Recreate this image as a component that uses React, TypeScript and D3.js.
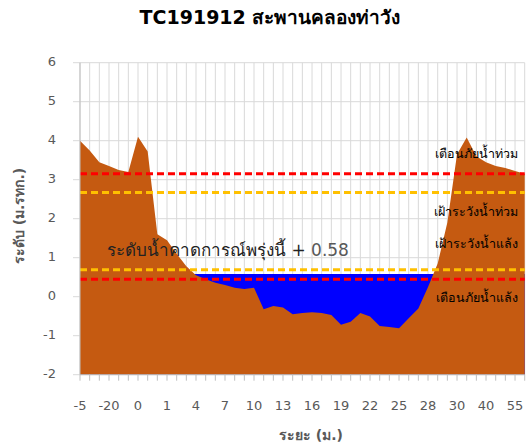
import React, { useRef, useEffect } from "react";
import * as d3 from "d3";

// distance categories (only every 3rd label is printed)
const categories = [
  "-5", "-10", "-15", "-20", "-3", "-1", "0", "0.3", "0.5", "1", "2", "3", "4",
  "5", "6", "7", "8", "9", "10", "11", "12", "13", "14", "15", "16", "17", "18",
  "19", "20", "21", "22", "23", "24", "25", "26", "27", "28", "29", "29.5", "30",
  "32", "35", "40", "45", "50", "55", "60",
];
// ground elevation (m. MSL)
const ground = [
  4.0, 3.75, 3.45, 3.35, 3.25, 3.2, 4.1, 3.72, 1.6, 1.45, 1.1, 0.78, 0.55, 0.45,
  0.36, 0.3, 0.23, 0.2, 0.23, -0.32, -0.24, -0.28, -0.45, -0.42, -0.4, -0.42,
  -0.47, -0.72, -0.64, -0.42, -0.51, -0.75, -0.78, -0.81, -0.55, -0.3, 0.25,
  0.85, 1.9, 3.65, 4.08, 3.6, 3.45, 3.35, 3.3, 3.22, 3.15,
];
const waterLevel = 0.58;
const levelNames = ["เตือนภัยน้ำท่วม", "เฝ้าระวังน้ำท่วม", "เฝ้าระวังน้ำแล้ง", "เตือนภัยน้ำแล้ง"];
const levelValues = [3.15, 2.67, 0.69, 0.45];
const levelColors = ["#FF0000", "#FFC000", "#FFC000", "#FF0000"];
const labelShift = [-19, 20, -25, 19];
const yTicks = [-2, -1, 0, 1, 2, 3, 4, 5, 6];

function App() {
  const svgRef = useRef<SVGSVGElement>(null);

  useEffect(() => {
    const svg = d3.select(svgRef.current);
    svg.selectAll("*").remove();

    const left = 80, right = 524.7, top = 62.7, bottom = 374.7;
    const font = "Tahoma, 'DejaVu Sans', sans-serif";

    const x = d3.scalePoint<number>()
      .domain(categories.map((_, i) => i))
      .range([left, right]);
    const y = d3.scaleLinear().domain([-2, 6]).range([bottom, top]);

    // gridlines
    svg.append("g")
      .selectAll("line")
      .data(categories.map((_, i) => i))
      .join("line")
      .attr("x1", d => x(d)!).attr("x2", d => x(d)!)
      .attr("y1", top).attr("y2", bottom)
      .attr("stroke", "#D9D9D9").attr("stroke-width", 1);
    svg.append("g")
      .selectAll("line")
      .data(yTicks)
      .join("line")
      .attr("x1", left - 7).attr("x2", right)
      .attr("y1", d => y(d)).attr("y2", d => y(d))
      .attr("stroke", "#D9D9D9").attr("stroke-width", 1);

    // water, then ground over it
    const water = d3.area<number>()
      .x((_, i) => x(i)!)
      .y0(y(-2))
      .y1(y(waterLevel));
    svg.append("path")
      .attr("d", water(ground))
      .attr("fill", "#0000FF");

    const bank = d3.area<number>()
      .x((_, i) => x(i)!)
      .y0(y(-2))
      .y1(d => y(d));
    svg.append("path")
      .attr("d", bank(ground))
      .attr("fill", "#C55A11");

    // threshold lines
    svg.append("g")
      .selectAll("line")
      .data(levelValues)
      .join("line")
      .attr("x1", left).attr("x2", right)
      .attr("y1", d => y(d)).attr("y2", d => y(d))
      .attr("stroke", (_, i) => levelColors[i])
      .attr("stroke-width", 3)
      .attr("stroke-dasharray", "7,4");

    svg.append("g")
      .selectAll("text")
      .data(levelNames)
      .join("text")
      .attr("x", 518)
      .attr("y", (_, i) => y(levelValues[i]) + labelShift[i])
      .attr("text-anchor", "end")
      .attr("dominant-baseline", "middle")
      .attr("font-family", font)
      .attr("font-size", 12.5)
      .attr("fill", "#000")
      .text(d => d);

    // forecast label
    const fc = svg.append("text")
      .attr("x", 107).attr("y", 256)
      .attr("font-family", font)
      .attr("font-size", 17)
      .attr("fill", "#222");
    fc.append("tspan").text("ระดับน้ำคาดการณ์พรุ่งนี้ + ");
    fc.append("tspan").attr("fill", "#595959").text(waterLevel.toFixed(2));

    // axes
    svg.append("line")
      .attr("x1", left).attr("x2", left)
      .attr("y1", top).attr("y2", bottom)
      .attr("stroke", "#BFBFBF");
    svg.append("line")
      .attr("x1", left).attr("x2", right)
      .attr("y1", bottom).attr("y2", bottom)
      .attr("stroke", "#BFBFBF");
    svg.append("g")
      .selectAll("line")
      .data(categories.map((_, i) => i))
      .join("line")
      .attr("x1", d => x(d)!).attr("x2", d => x(d)!)
      .attr("y1", bottom).attr("y2", bottom + 6)
      .attr("stroke", "#BFBFBF");

    svg.append("g")
      .selectAll("text")
      .data(yTicks)
      .join("text")
      .attr("x", 56)
      .attr("y", d => y(d))
      .attr("text-anchor", "end")
      .attr("dominant-baseline", "middle")
      .attr("font-family", font)
      .attr("font-size", 13)
      .attr("fill", "#595959")
      .text(d => d);

    svg.append("g")
      .selectAll("text")
      .data(categories.map((c, i) => ({ c, i })).filter(d => d.i % 3 === 0))
      .join("text")
      .attr("x", d => x(d.i)!)
      .attr("y", 406)
      .attr("text-anchor", "middle")
      .attr("dominant-baseline", "middle")
      .attr("font-family", font)
      .attr("font-size", 13)
      .attr("fill", "#595959")
      .text(d => d.c);

    // titles
    svg.append("text")
      .attr("x", 270).attr("y", 18)
      .attr("text-anchor", "middle")
      .attr("dominant-baseline", "middle")
      .attr("font-family", font)
      .attr("font-size", 19)
      .attr("font-weight", "bold")
      .attr("fill", "#000")
      .text("TC191912 สะพานคลองท่าวัง");
    svg.append("text")
      .attr("x", 311).attr("y", 436)
      .attr("text-anchor", "middle")
      .attr("dominant-baseline", "middle")
      .attr("font-family", font)
      .attr("font-size", 14)
      .attr("font-weight", "bold")
      .attr("fill", "#595959")
      .text("ระยะ (ม.)");
    svg.append("text")
      .attr("transform", "translate(20,216) rotate(-90)")
      .attr("text-anchor", "middle")
      .attr("dominant-baseline", "middle")
      .attr("font-family", font)
      .attr("font-size", 14)
      .attr("font-weight", "bold")
      .attr("fill", "#595959")
      .text("ระดับ (ม.รทก.)");
  }, []);

  return (
    <div style={{ position: "absolute", left: 0, top: 0 }}>
      <svg ref={svgRef} width={526} height={448} style={{ display: "block", background: "#fff" }}></svg>
    </div>
  );
}

export default App;
